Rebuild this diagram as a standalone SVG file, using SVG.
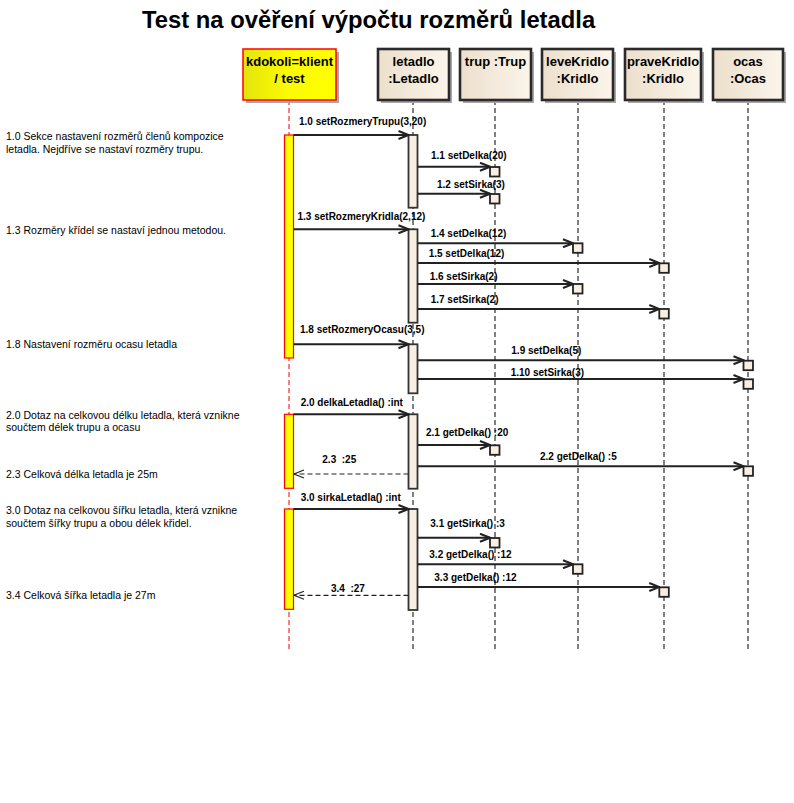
<svg xmlns="http://www.w3.org/2000/svg" width="794" height="803" viewBox="0 0 794 803">
<style>
.title{font-family:"Liberation Sans",Arial,sans-serif;font-weight:bold;font-size:23.8px;fill:#000}
.hd{font-family:"Liberation Sans",Arial,sans-serif;font-weight:bold;font-size:13px;fill:#000;text-anchor:middle}
.lbl{font-family:"Liberation Sans",Arial,sans-serif;font-weight:bold;font-size:10px;fill:#000}
.note{font-family:"Liberation Sans",Arial,sans-serif;font-size:10.5px;fill:#000}
.box{fill:url(#beige);stroke:#2a2a2a;stroke-width:2.6}
.shadow{fill:#a8a8a8}
.life{stroke:#000;stroke-width:1;stroke-dasharray:5,3;fill:none}
.lifered{stroke:#e00;stroke-width:1;stroke-dasharray:5,3;fill:none}
.act{fill:#f8efe3;stroke:#333;stroke-width:1.8}
.actY{fill:#ffff00;stroke:#f00;stroke-width:1.2}
.sm{fill:#f8efe3;stroke:#222;stroke-width:1.8}
.msg{stroke:#222;stroke-width:2;fill:none;marker-end:url(#open)}
.ret{stroke:#222;stroke-width:1.2;stroke-dasharray:5,3;fill:none;marker-end:url(#openThin)}
</style>
<defs>
<linearGradient id="beige" x1="0" y1="0" x2="1" y2="0">
<stop offset="0" stop-color="#ecdfcc"/>
<stop offset="1" stop-color="#fbf5eb"/>
</linearGradient>
<linearGradient id="yel" x1="0" y1="0" x2="1" y2="0">
<stop offset="0" stop-color="#e4e40c"/>
<stop offset="0.5" stop-color="#fcfc00"/>
<stop offset="1" stop-color="#ffff00"/>
</linearGradient>
<marker id="open" viewBox="0 0 12 10" refX="11" refY="5" markerWidth="12" markerHeight="10" markerUnits="userSpaceOnUse" orient="auto">
<path d="M1,1 L11,5 L1,9" fill="none" stroke="#222" stroke-width="2"/>
</marker>
<marker id="openThin" viewBox="0 0 12 10" refX="11" refY="5" markerWidth="12" markerHeight="10" markerUnits="userSpaceOnUse" orient="auto">
<path d="M1,1 L11,5 L1,9" fill="none" stroke="#222" stroke-width="1.2"/>
</marker>
</defs>
<rect width="794" height="803" fill="#fff"/>
<text class="title" x="142" y="28">Test na ověření výpočtu rozměrů letadla</text>

<g id="kdokoli">
<line class="lifered" x1="289" y1="100" x2="289" y2="652"/>
<rect class="shadow" x="246" y="52" width="93" height="51"/>
<rect x="243" y="49" width="93" height="51" fill="url(#yel)" stroke="#f00" stroke-width="1.5"/>
<text class="hd" x="289.5" y="66">kdokoli=klient</text>
<text class="hd" x="289.5" y="82.5">/ test</text>
<rect class="actY" x="284.5" y="135" width="9" height="223"/>
<rect class="actY" x="284.5" y="414.3" width="9" height="74"/>
<rect class="actY" x="284.5" y="509" width="9" height="100.3"/>
</g>

<g id="letadlo">
<line class="life" x1="413" y1="100" x2="413" y2="652"/>
<rect class="shadow" x="381" y="52" width="71" height="51"/>
<rect class="box" x="378" y="49" width="71" height="51"/>
<text class="hd" x="413.5" y="66">letadlo</text>
<text class="hd" x="413.5" y="82.5">:Letadlo</text>
<rect class="act" x="408.5" y="135" width="9" height="72.7"/>
<rect class="act" x="408.5" y="229.3" width="9" height="93.4"/>
<rect class="act" x="408.5" y="344.3" width="9" height="49"/>
<rect class="act" x="408.5" y="414.3" width="9" height="74.4"/>
<rect class="act" x="408.5" y="509" width="9" height="101"/>
</g>

<g id="trup">
<line class="life" x1="495" y1="100" x2="495" y2="652"/>
<rect class="shadow" x="463" y="52" width="71" height="51"/>
<rect class="box" x="460" y="49" width="71" height="51"/>
<text class="hd" x="495.5" y="66">trup :Trup</text>
<rect class="sm" x="490" y="167" width="9.5" height="9.5"/>
<rect class="sm" x="490" y="194" width="9.5" height="9.5"/>
<rect class="sm" x="490" y="445.3" width="9.5" height="9.5"/>
<rect class="sm" x="490" y="538" width="9.5" height="9.5"/>
</g>

<g id="leveKridlo">
<line class="life" x1="578" y1="100" x2="578" y2="652"/>
<rect class="shadow" x="545" y="52" width="71" height="51"/>
<rect class="box" x="542" y="49" width="71" height="51"/>
<text class="hd" x="577.5" y="66">leveKridlo</text>
<text class="hd" x="577.5" y="82.5">:Kridlo</text>
<rect class="sm" x="573" y="243.3" width="9.5" height="9.5"/>
<rect class="sm" x="573" y="284" width="9.5" height="9.5"/>
<rect class="sm" x="573" y="564.3" width="9.5" height="9.5"/>
</g>

<g id="praveKridlo">
<line class="life" x1="664" y1="100" x2="664" y2="652"/>
<rect class="shadow" x="628" y="52" width="76" height="51"/>
<rect class="box" x="625" y="49" width="76" height="51"/>
<text class="hd" x="663" y="66">praveKridlo</text>
<text class="hd" x="663" y="82.5">:Kridlo</text>
<rect class="sm" x="659.3" y="263.3" width="9.5" height="9.5"/>
<rect class="sm" x="659.3" y="309" width="9.5" height="9.5"/>
<rect class="sm" x="659.3" y="587.3" width="9.5" height="9.5"/>
</g>

<g id="ocas">
<line class="life" x1="748" y1="100" x2="748" y2="652"/>
<rect class="shadow" x="716" y="52" width="70" height="51"/>
<rect class="box" x="713" y="49" width="70" height="51"/>
<text class="hd" x="748" y="66">ocas</text>
<text class="hd" x="748" y="82.5">:Ocas</text>
<rect class="sm" x="743.5" y="360.7" width="9.5" height="9.5"/>
<rect class="sm" x="743.5" y="379.3" width="9.5" height="9.5"/>
<rect class="sm" x="743.5" y="466.3" width="9.5" height="9.5"/>
</g>

<g id="connectors">
<line class="msg" x1="293.5" y1="135" x2="408.5" y2="135"/>
<line class="msg" x1="417.5" y1="166.7" x2="490" y2="166.7"/>
<line class="msg" x1="417.5" y1="193.7" x2="490" y2="193.7"/>
<line class="msg" x1="293.5" y1="229.3" x2="408.5" y2="229.3"/>
<line class="msg" x1="417.5" y1="243.3" x2="573" y2="243.3"/>
<line class="msg" x1="417.5" y1="263" x2="659.3" y2="263"/>
<line class="msg" x1="417.5" y1="284" x2="573" y2="284"/>
<line class="msg" x1="417.5" y1="309" x2="659.3" y2="309"/>
<line class="msg" x1="293.5" y1="344.3" x2="408.5" y2="344.3"/>
<line class="msg" x1="417.5" y1="360.3" x2="743.5" y2="360.3"/>
<line class="msg" x1="417.5" y1="379" x2="743.5" y2="379"/>
<line class="msg" x1="293.5" y1="414.3" x2="408.5" y2="414.3"/>
<line class="msg" x1="417.5" y1="445" x2="490" y2="445"/>
<line class="msg" x1="417.5" y1="466.3" x2="743.5" y2="466.3"/>
<line class="ret" x1="408.5" y1="474" x2="294" y2="474"/>
<line class="msg" x1="293.5" y1="509" x2="408.5" y2="509"/>
<line class="msg" x1="417.5" y1="537.7" x2="490" y2="537.7"/>
<line class="msg" x1="417.5" y1="564.3" x2="573" y2="564.3"/>
<line class="msg" x1="417.5" y1="587" x2="659.3" y2="587"/>
<line class="ret" x1="408.5" y1="595.3" x2="294" y2="595.3"/>
<text class="lbl" x="299" y="124.5">1.0 setRozmeryTrupu(3,20)</text>
<text class="lbl" x="431" y="159">1.1 setDelka(20)</text>
<text class="lbl" x="437" y="187.5">1.2 setSirka(3)</text>
<text class="lbl" x="297.5" y="219.5">1.3 setRozmeryKridla(2,12)</text>
<text class="lbl" x="430.7" y="237">1.4 setDelka(12)</text>
<text class="lbl" x="428.7" y="257">1.5 setDelka(12)</text>
<text class="lbl" x="429.7" y="279.5">1.6 setSirka(2)</text>
<text class="lbl" x="430.7" y="303">1.7 setSirka(2)</text>
<text class="lbl" x="300" y="333">1.8 setRozmeryOcasu(3,5)</text>
<text class="lbl" x="511.3" y="354">1.9 setDelka(5)</text>
<text class="lbl" x="510.7" y="375.5">1.10 setSirka(3)</text>
<text class="lbl" x="300.7" y="405.5">2.0 delkaLetadla() :int</text>
<text class="lbl" x="426" y="435.5">2.1 getDelka() :20</text>
<text class="lbl" x="540" y="459.5">2.2 getDelka() :5</text>
<text class="lbl" x="322.3" y="463" xml:space="preserve">2.3  :25</text>
<text class="lbl" x="300.7" y="501">3.0 sirkaLetadla() :int</text>
<text class="lbl" x="430.3" y="527">3.1 getSirka() :3</text>
<text class="lbl" x="429.3" y="558">3.2 getDelka() :12</text>
<text class="lbl" x="434.3" y="581">3.3 getDelka() :12</text>
<text class="lbl" x="331" y="592" xml:space="preserve">3.4  :27</text>
</g>

<g id="notes">
<text class="note" x="6" y="140">1.0 Sekce nastavení rozměrů členů kompozice</text>
<text class="note" x="6" y="152.5">letadla. Nejdříve se nastaví rozměry trupu.</text>
<text class="note" x="6" y="234">1.3 Rozměry křídel se nastaví jednou metodou.</text>
<text class="note" x="6" y="348">1.8 Nastavení rozměru ocasu letadla</text>
<text class="note" x="6" y="418.5">2.0 Dotaz na celkovou délku letadla, která vznikne</text>
<text class="note" x="6" y="431">součtem délek trupu a ocasu</text>
<text class="note" x="6" y="478">2.3 Celková délka letadla je 25m</text>
<text class="note" x="6" y="514">3.0 Dotaz na celkovou šířku letadla, která vznikne</text>
<text class="note" x="6" y="526.5">součtem šířky trupu a obou délek křidel.</text>
<text class="note" x="6" y="598.5">3.4 Celková šířka letadla je 27m</text>
</g>
</svg>
